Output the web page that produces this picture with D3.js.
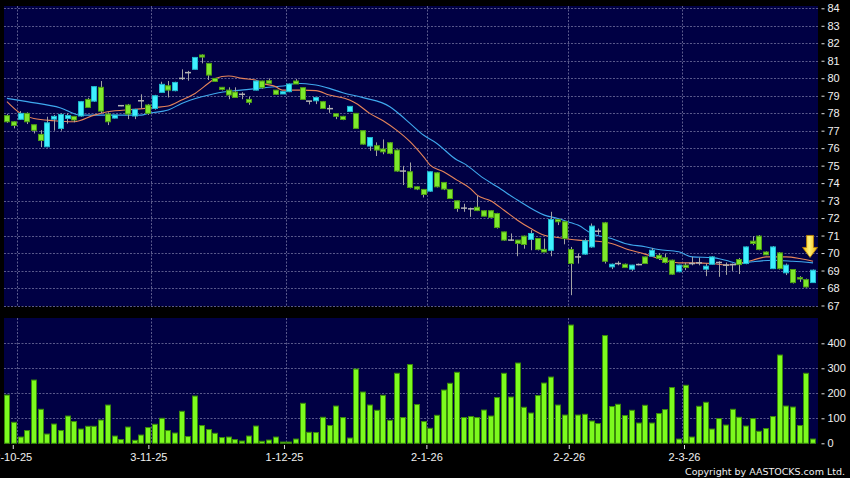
<!DOCTYPE html>
<html>
<head>
<meta charset="utf-8">
<script src="https://cdn.jsdelivr.net/npm/d3@7"></script>
<style>
    html, body { margin: 0; padding: 0; background: #000; }
    svg { display: block; font-family: "DejaVu Sans", sans-serif; }
    .axis text { fill: #f0f0f0; font-size: 11px; }
    .axis line { stroke: #e0e0e0; }
    .axis .domain { display: none; }
</style>
</head>
<body>
<svg id="chart"></svg>
<script>
// daily bars, index 0 = first session shown
const opens = [77.86,77.51,77.65,77.99,77.34,76.79,76.08,77.66,77.13,77.70,77.82,77.84,78.79,78.69,79.48,77.95,77.72,78.43,78.47,77.84,
    78.71,78.47,78.27,79.19,79.57,79.29,79.99,80.32,80.51,81.33,80.85,79.99,79.48,79.32,79.21,79.08,78.79,79.32,79.84,79.86,
    79.32,79.10,79.23,79.84,79.46,78.69,78.71,78.66,78.26,77.97,77.82,78.10,77.99,77.00,76.12,76.14,75.95,76.31,75.89,74.69,
    74.65,73.79,73.64,73.54,74.59,74.04,73.64,72.99,72.57,72.53,72.62,72.42,72.42,72.26,71.21,70.74,70.74,70.97,70.78,70.83,
    70.21,70.16,71.92,71.79,70.20,69.78,69.94,70.35,71.25,71.73,69.21,69.40,69.36,69.08,69.34,69.78,69.82,69.87,69.73,69.59,
    68.93,69.31,69.40,69.44,69.08,69.36,69.46,69.31,69.34,69.63,69.40,70.68,70.97,70.06,69.11,70.01,68.87,69.06,68.60,68.48,
    68.31];
const highs = [77.95,77.55,78.12,78.05,77.34,77.03,77.80,77.90,77.99,77.99,77.82,78.70,78.88,79.55,79.84,78.05,77.90,78.45,78.53,78.25,
    79.08,78.53,79.05,79.80,79.84,79.80,80.51,80.42,81.20,81.37,80.85,80.00,79.50,79.48,79.48,79.20,78.94,79.86,79.86,79.99,
    79.33,79.25,79.70,79.95,79.46,78.70,78.90,78.70,78.47,77.97,77.85,78.40,78.00,77.00,76.62,76.33,76.50,76.35,75.92,74.99,
    75.18,73.80,73.65,74.67,74.62,74.05,73.65,73.00,72.82,72.60,73.27,72.44,72.44,72.30,71.22,71.12,70.75,71.00,71.31,70.85,
    70.83,72.36,71.95,71.80,70.35,69.97,70.83,71.69,71.40,71.78,69.40,69.53,69.40,69.33,69.40,69.80,70.29,70.00,69.97,69.62,
    69.33,69.44,69.78,69.74,69.40,69.82,69.53,69.46,69.40,69.72,70.38,70.97,71.03,70.10,70.40,70.06,69.40,69.08,68.68,68.54,
    69.06];
const lows = [77.45,77.13,77.62,77.38,76.84,76.06,76.05,77.00,77.00,77.40,77.48,77.80,78.33,78.65,77.99,77.32,77.70,78.40,77.66,77.66,
    78.27,77.90,78.20,79.17,78.90,79.25,79.90,79.86,80.50,80.85,79.90,79.80,79.30,78.80,78.90,78.80,78.48,79.30,79.40,79.70,
    79.05,79.10,79.20,79.67,78.79,78.50,78.52,78.25,78.02,77.66,77.60,78.10,77.13,76.20,75.85,75.55,75.65,75.65,74.65,73.89,
    73.70,73.60,73.18,73.50,73.75,73.60,73.10,72.36,72.36,72.07,72.40,72.10,72.00,71.40,70.70,70.70,69.82,70.25,70.16,70.15,
    70.05,69.82,71.60,70.50,67.59,69.40,69.90,70.30,71.05,69.40,69.08,69.30,69.15,68.98,69.30,69.38,69.78,69.60,69.40,68.75,
    68.90,69.02,69.30,69.30,68.68,69.34,68.64,68.75,68.98,68.80,69.36,70.45,70.16,69.88,69.08,69.06,68.74,68.26,68.35,68.02,
    68.29];
const closes = [77.51,77.30,77.99,77.51,77.02,76.44,77.45,77.82,77.93,77.87,77.61,78.66,78.33,79.52,78.12,77.51,77.89,78.43,77.95,78.22,
    78.71,77.99,79.00,79.65,79.32,79.76,79.99,80.32,81.19,81.21,80.18,79.82,79.36,79.04,78.90,79.08,78.62,79.84,79.46,79.71,
    79.08,79.23,79.67,79.67,78.79,78.69,78.90,78.27,78.26,77.82,77.64,78.39,77.13,76.23,76.61,75.89,75.79,75.70,74.69,74.69,
    73.75,73.66,73.35,74.65,73.79,73.66,73.12,72.55,72.57,72.53,72.43,72.11,72.04,71.46,70.74,70.74,70.55,70.49,71.12,70.20,
    70.06,71.92,71.79,70.83,69.40,69.78,70.70,71.54,71.25,69.53,69.36,69.40,69.17,69.31,69.34,69.40,70.16,69.69,69.46,68.79,
    69.31,69.17,69.40,69.44,69.25,69.78,69.46,69.31,69.34,69.34,70.35,70.55,70.20,69.90,70.35,69.11,69.31,68.31,68.52,68.06,
    69.02];
const volumes = [193,84,25,51,253,136,37,77,51,109,87,57,68,68,93,153,29,15,65,12,
    33,63,76,100,51,41,128,27,189,71,55,40,23,25,15,9,29,69,8,13,
    25,5,5,17,160,44,43,104,71,149,103,21,297,205,153,132,192,92,280,103,
    315,155,87,60,112,213,240,284,103,107,103,133,109,183,280,185,321,144,121,191,
    241,265,153,113,473,113,116,89,79,431,147,156,111,132,81,152,81,119,135,223,
    17,232,25,148,164,57,99,73,136,104,69,99,48,59,107,353,149,145,71,280,
    17];

// moving averages at sample sessions
const maShortIdx = [0,2,4,7,10,13,15,19,22,24,26,28,30,31,33,35,37,38,40,41,44,46,48,51,52,54,56,58,60,62,
    63,65,67,69,70,72,74,76,78,80,82,85,87,90,92,95,97,100,102,105,107,109,111,113,116,118,120];
const maShortVal = [78.66,77.99,77.70,77.57,77.51,77.89,78.08,78.22,78.33,78.41,78.75,79.13,79.71,79.99,80.13,79.99,79.90,79.71,79.52,79.32,
    79.32,79.29,79.04,78.75,78.56,77.99,77.57,77.03,76.37,75.51,75.03,74.65,74.17,73.69,73.31,72.99,72.45,71.88,71.40,71.02,
    70.89,70.74,70.70,70.55,70.26,69.94,69.69,69.44,69.44,69.40,69.31,69.40,69.59,69.78,69.78,69.69,69.53];
const maLongIdx = [0,3,8,11,20,21,24,26,29,31,34,36,39,42,43,46,48,50,53,57,58,60,62,64,67,68,71,73,76,80,
    82,84,85,87,90,92,95,97,100,102,105,107,109,111,114,117,120];
const maLongVal = [78.85,78.66,78.30,77.89,77.89,77.99,78.18,78.56,78.94,79.13,79.29,79.36,79.48,79.61,79.71,79.61,79.42,79.17,78.89,78.37,
    78.08,77.42,76.75,76.27,75.32,75.13,74.27,73.79,73.03,72.17,71.98,71.73,71.60,71.12,70.83,70.55,70.36,70.20,70.07,69.78,
    69.74,69.59,69.40,69.50,69.59,69.53,69.44];

const priceTicks = d3.range(67, 85);
const volumeTicks = [0, 100, 200, 300, 400];
const dateTickIdx = [1, 21, 41, 62, 83, 100];
const dateTickLabels = ["2-10-25", "3-11-25", "1-12-25", "2-1-26", "2-2-26", "2-3-26"];
const arrowIdx = 120, arrowPrice = 69.75;

const width = 850, height = 478;
const main = { left: 4, right: 818, top: 6, bottom: 306 };
const vol = { top: 318, bottom: 443.5 };
const n = closes.length;

const svg = d3.select("#chart").attr("width", width).attr("height", height);
svg.append("rect").attr("width", width).attr("height", height).attr("fill", "#000");

const x = d3.scaleBand()
    .domain(d3.range(n))
    .range([3.6, 816.4])
    .paddingInner(0.15)
    .paddingOuter(0.075);
const bw = x.bandwidth();
const xc = (i) => x(i) + bw / 2;
// the date labels sit on a slightly wider spacing than the bars
const xLabel = x.copy().range([3.1, 823.5]);

const y = d3.scaleLinear().domain([67, 84]).range([305.5, 8.3]);
const yv = d3.scaleLinear().domain([0, 500]).range([443.3, 318.3]);

// panels
svg.append("rect")
    .attr("x", main.left).attr("y", main.top)
    .attr("width", main.right - main.left).attr("height", main.bottom - main.top)
    .attr("fill", "#000044");
svg.append("rect")
    .attr("x", main.left).attr("y", vol.top)
    .attr("width", main.right - main.left).attr("height", vol.bottom - vol.top)
    .attr("fill", "#000044");

// grid
const grid = svg.append("g")
    .attr("stroke", "#5a5a8c")
    .attr("stroke-width", 1)
    .attr("stroke-dasharray", "2,1.5");
grid.selectAll(".hgrid")
    .data(priceTicks)
    .join("line")
    .attr("x1", main.left).attr("x2", main.right)
    .attr("y1", (d) => Math.round(y(d)) + 0.5)
    .attr("y2", (d) => Math.round(y(d)) + 0.5);
grid.selectAll(".vgrid-v")
    .data(volumeTicks.filter((d) => d > 0))
    .join("line")
    .attr("x1", main.left).attr("x2", main.right)
    .attr("y1", (d) => Math.round(yv(d)) + 0.5)
    .attr("y2", (d) => Math.round(yv(d)) + 0.5);
const gridX = (i) => Math.round(x(i) + x.step() * (1 - 0.075)) + 0.5;
dateTickIdx.forEach((i) => {
    grid.append("line").attr("x1", gridX(i)).attr("x2", gridX(i)).attr("y1", main.top).attr("y2", main.bottom);
    grid.append("line").attr("x1", gridX(i)).attr("x2", gridX(i)).attr("y1", vol.top).attr("y2", vol.bottom);
});

// moving averages
const maLine = d3.line()
    .x((d) => xc(d[0]))
    .y((d) => y(d[1]))
    .curve(d3.curveMonotoneX);
svg.append("path")
    .attr("d", maLine(maLongIdx.map((d, k) => [d, maLongVal[k]])))
    .attr("fill", "none").attr("stroke", "#3fa9ee").attr("stroke-width", 1.1);
svg.append("path")
    .attr("d", maLine(maShortIdx.map((d, k) => [d, maShortVal[k]])))
    .attr("fill", "none").attr("stroke", "#e6845a").attr("stroke-width", 1.1);

// candles
const bars = d3.range(n).map((i) => ({ i, o: opens[i], h: highs[i], l: lows[i], c: closes[i], v: volumes[i] }));
const candles = svg.append("g");
candles.selectAll(".wick")
    .data(bars)
    .join("line")
    .attr("class", "wick")
    .attr("x1", (d) => Math.round(xc(d.i)) + 0.5).attr("x2", (d) => Math.round(xc(d.i)) + 0.5)
    .attr("y1", (d) => y(d.h)).attr("y2", (d) => y(d.l))
    .attr("stroke", "#a4a4a4").attr("stroke-width", 1);
candles.selectAll(".body")
    .data(bars.filter((d) => d.o !== d.c))
    .join("rect")
    .attr("class", "body")
    .attr("x", (d) => Math.round(x(d.i)) + 0.5)
    .attr("width", Math.round(bw) - 1)
    .attr("y", (d) => y(Math.max(d.o, d.c)))
    .attr("height", (d) => Math.max(1.5, Math.abs(y(d.o) - y(d.c))))
    .attr("fill", (d) => d.c > d.o ? "#3ff0ff" : "#7ee82c")
    .attr("stroke", (d) => d.c > d.o ? "#20b8cc" : "#4e9e14")
    .attr("stroke-width", 1);
candles.selectAll(".doji")
    .data(bars.filter((d) => d.o === d.c))
    .join("line")
    .attr("class", "doji")
    .attr("x1", (d) => Math.round(x(d.i))).attr("x2", (d) => Math.round(x(d.i)) + Math.round(bw))
    .attr("y1", (d) => y(d.c)).attr("y2", (d) => y(d.c))
    .attr("stroke", "#b4b4b4").attr("stroke-width", 1.5);

// volume
svg.append("g").selectAll("rect")
    .data(bars)
    .join("rect")
    .attr("x", (d) => Math.round(x(d.i)) + 0.5)
    .attr("width", Math.round(bw) - 1)
    .attr("y", (d) => yv(d.v))
    .attr("height", (d) => yv(0) - yv(d.v))
    .attr("fill", "#7cfa1e")
    .attr("stroke", "#3a8a0a")
    .attr("stroke-width", 1);

// arrow marker on the last session
const ax = xc(arrowIdx) - 3, ay = y(arrowPrice);
const defs = svg.append("defs");
const grad = defs.append("linearGradient").attr("id", "arrowGrad")
    .attr("x1", 0).attr("y1", 0).attr("x2", 1).attr("y2", 0);
grad.append("stop").attr("offset", "0%").attr("stop-color", "#f0b400");
grad.append("stop").attr("offset", "45%").attr("stop-color", "#fff27a");
grad.append("stop").attr("offset", "100%").attr("stop-color", "#f0b000");
svg.append("path")
    .attr("d", `M${ax - 3.5},${ay - 22} L${ax + 3.5},${ay - 22} L${ax + 3.5},${ay - 10} L${ax + 7.5},${ay - 10}
        L${ax},${ay} L${ax - 7.5},${ay - 10} L${ax - 3.5},${ay - 10} Z`)
    .attr("fill", "url(#arrowGrad)")
    .attr("stroke", "#c08400")
    .attr("stroke-width", 0.8);

// axes
svg.append("g")
    .attr("class", "axis")
    .attr("transform", "translate(821.5,0)")
    .call(d3.axisRight(y).tickValues(priceTicks).tickSize(3).tickPadding(3));
svg.append("g")
    .attr("class", "axis")
    .attr("transform", "translate(821.5,0)")
    .call(d3.axisRight(yv).tickValues(volumeTicks).tickSize(3).tickPadding(3));
svg.append("g")
    .attr("class", "axis")
    .attr("transform", `translate(0,${vol.bottom + 1.5})`)
    .call(d3.axisBottom(xLabel)
        .tickValues(dateTickIdx)
        .tickFormat((d) => dateTickLabels[dateTickIdx.indexOf(d)])
        .tickSize(4)
        .tickPadding(4));

svg.append("text")
    .attr("x", 845).attr("y", 475)
    .attr("text-anchor", "end")
    .attr("fill", "#f0f0f0")
    .attr("font-size", "9.5px")
    .text("Copyright by AASTOCKS.com Ltd.");
</script>
</body>
</html>
